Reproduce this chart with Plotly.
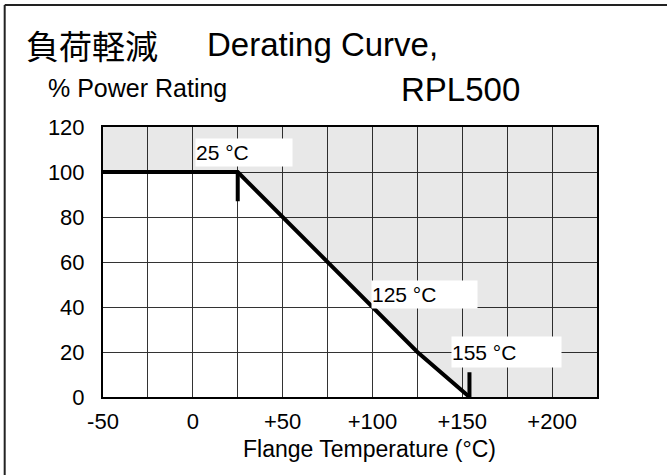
import plotly.graph_objects as go

# ---- data ----
temps = [-50, 25, 125, 154]          # derating curve, x (°C)
power = [100, 100, 20, 0]            # derating curve, y (% power)
knee_tick_x = [25, 25]
knee_tick_y = [100, 87]
end_tick_x = [154, 154]
end_tick_y = [0, 11]

x_min, x_max = -50, 225
y_min, y_max = 0, 120
grid_x = [-50, -25, 0, 25, 50, 75, 100, 125, 150, 175, 200, 225]
x_tick_text = ["-50", "", "0", "", "+50", "", "+100", "", "+150", "", "+200", ""]
grid_y = [0, 20, 40, 60, 80, 100, 120]

point_labels = ["25 °C", "125 °C", "155 °C"]
label_x = [1, 99.4, 143.6]
label_y = [108.8, 45.7, 20.1]
label_w = [96, 105, 109]
label_h = [27, 27, 30]

FONT = "Liberation Sans, Arial, Noto Sans CJK JP, sans-serif"

fig = go.Figure()

# gray region above the curve (semi-transparent so gridlines stay visible)
fill_x = temps + [x_max, x_max, x_min]
fill_y = power + [y_min, y_max, y_max]
fig.add_trace(go.Scatter(x=fill_x, y=fill_y, fill="toself", mode="none",
                         fillcolor="rgba(0,0,0,0.09)", hoverinfo="skip",
                         showlegend=False))

line_style = dict(color="black", width=4)
fig.add_trace(go.Scatter(x=temps, y=power, mode="lines", line=line_style,
                         showlegend=False))
fig.add_trace(go.Scatter(x=knee_tick_x, y=knee_tick_y, mode="lines",
                         line=line_style, showlegend=False))
fig.add_trace(go.Scatter(x=end_tick_x, y=end_tick_y, mode="lines",
                         line=line_style, showlegend=False))

annotations = []
for t, x, y, w, h in zip(point_labels, label_x, label_y, label_w, label_h):
    annotations.append(dict(text=t, x=x, y=y, xref="x", yref="y",
                            xanchor="left", yanchor="middle", showarrow=False,
                            width=w, height=h, align="left", bgcolor="white",
                            borderpad=0, font=dict(size=21, color="black")))

# titles
annotations += [
    dict(text="負荷軽減", x=-0.160, y=1.304, xref="paper", yref="paper",
         xanchor="left", yanchor="middle", showarrow=False,
         font=dict(size=33, color="black", family="Noto Sans CJK JP")),
    dict(text="Derating Curve,", x=0.207, y=1.304, xref="paper", yref="paper",
         xanchor="left", yanchor="middle", showarrow=False,
         font=dict(size=33, color="black")),
    dict(text="% Power Rating", x=-0.115, y=1.145, xref="paper", yref="paper",
         xanchor="left", yanchor="middle", showarrow=False,
         font=dict(size=25, color="black")),
    dict(text="RPL500", x=0.600, y=1.140, xref="paper", yref="paper",
         xanchor="left", yanchor="middle", showarrow=False,
         font=dict(size=33, color="black")),
    dict(text="Flange Temperature (°C)", x=0.54, y=-0.193, xref="paper", yref="paper",
         xanchor="center", yanchor="middle", showarrow=False,
         font=dict(size=23, color="black")),
]

fig.update_layout(
    width=667, height=475,
    margin=dict(l=103, r=70, t=127, b=78),
    paper_bgcolor="white", plot_bgcolor="white",
    font=dict(family=FONT, color="black", size=22),
    annotations=annotations,
    shapes=[
        dict(type="line", xref="paper", yref="paper", x0=-0.199, x1=1.2,
             y0=1.452, y1=1.452, line=dict(color="#222", width=2)),
        dict(type="line", xref="paper", yref="paper", x0=-0.199, x1=-0.199,
             y0=1.452, y1=-0.3, line=dict(color="#222", width=2)),
    ],
)
fig.update_xaxes(range=[x_min, x_max], tickvals=grid_x, ticktext=x_tick_text,
                 showgrid=True, gridcolor="#333", gridwidth=1,
                 showline=True, linecolor="black", linewidth=2, mirror=True,
                 ticks="", zeroline=False, ticklabelstandoff=4,
                 tickfont=dict(size=22))
fig.update_yaxes(range=[y_min, y_max], tickvals=grid_y,
                 showgrid=True, gridcolor="#333", gridwidth=1,
                 showline=True, linecolor="black", linewidth=2, mirror=True,
                 ticks="", zeroline=False, ticklabelstandoff=12,
                 tickfont=dict(size=22))

fig.write_html("out.html",
               config={"displayModeBar": False},
               post_script="document.body.style.margin='0px';"
                           "document.body.style.overflow='hidden';")
